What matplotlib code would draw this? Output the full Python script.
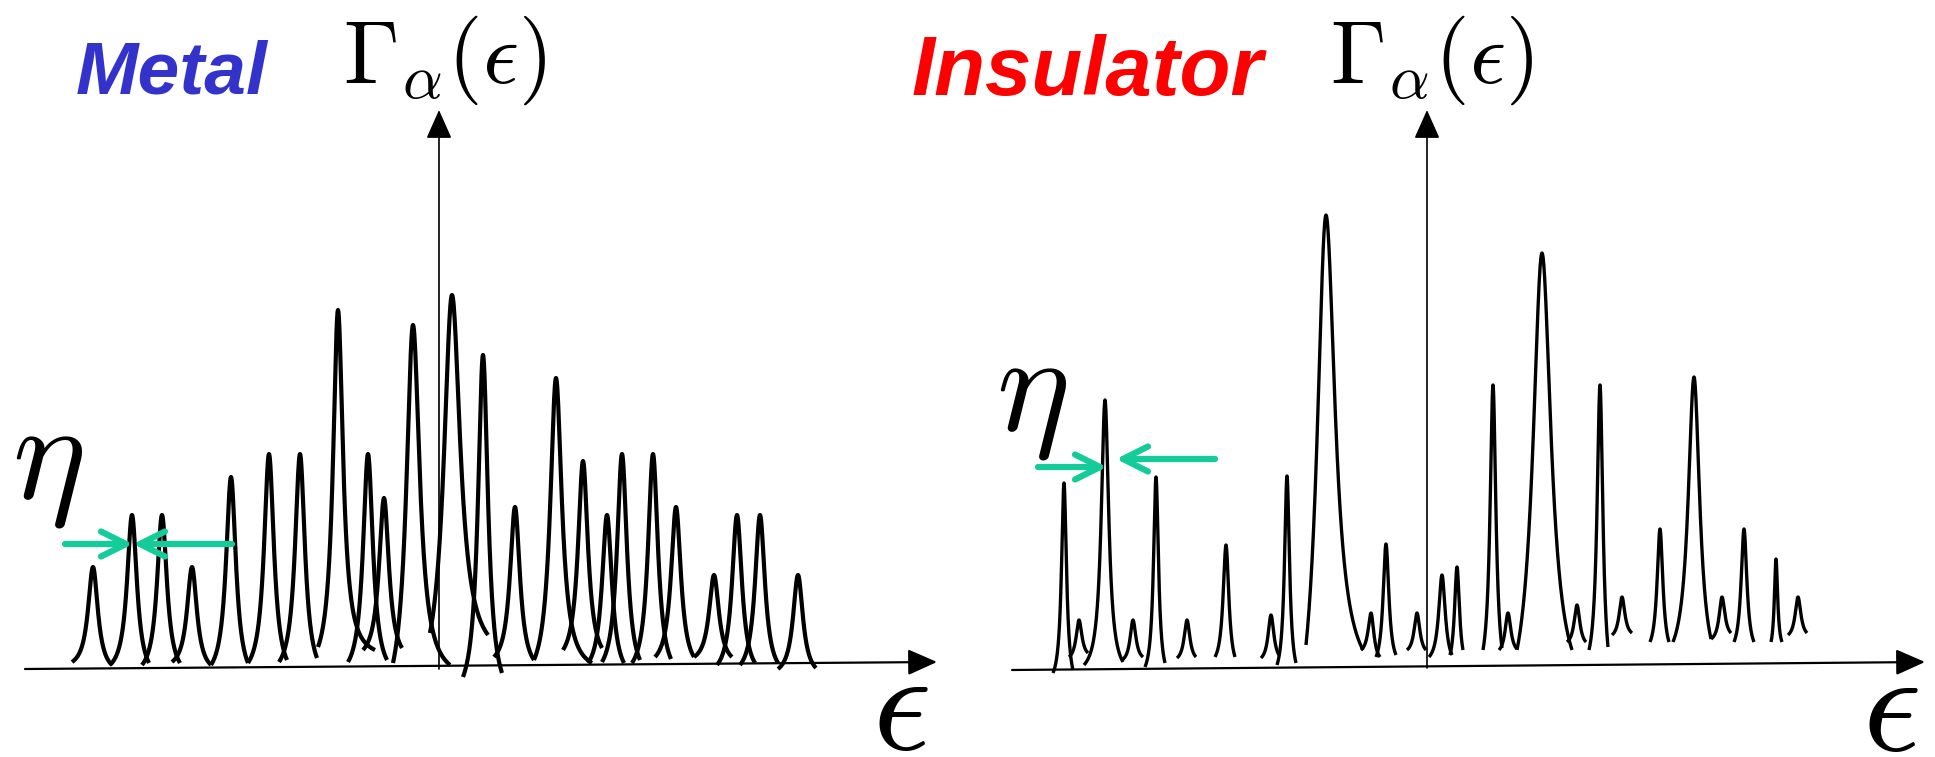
import matplotlib
matplotlib.use('Agg')
import matplotlib.pyplot as plt
import numpy as np

plt.rcParams['mathtext.fontset'] = 'cm'

# ---- Metal: peak centres (eps), peak tops (Gamma), widths, tail end points
metal_eps = [-3.45, -3.06, -2.76, -2.46, -2.07, -1.69, -1.38, -1.00, -0.70, -0.54, -0.25, 0.14,
             0.45, 0.77, 1.18, 1.45, 1.69, 1.84, 2.15, 2.38, 2.76, 2.99, 3.22, 3.60]
metal_top = [1.00, 1.52, 1.52, 1.00, 1.90, 2.13, 2.13, 3.57, 2.13, 1.69, 3.42, 3.72,
             3.12, 1.60, 2.89, 2.06, 1.52, 2.13, 2.13, 1.60, 0.92, 1.52, 1.52, 0.92]
metal_w = [0.06, 0.06, 0.06, 0.06, 0.06, 0.06, 0.06, 0.06, 0.06, 0.06, 0.08, 0.10,
           0.06, 0.06, 0.07, 0.06, 0.06, 0.06, 0.06, 0.06, 0.06, 0.06, 0.06, 0.06]
metal_left_x = [-3.66, -3.28, -2.96, -2.66, -2.27, -1.90, -1.59, -1.20, -0.90, -0.75, -0.45, -0.08,
                0.25, 0.56, 0.96, 1.25, 1.50, 1.64, 1.94, 2.17, 2.56, 2.79, 3.02, 3.40]
metal_left_y = [0.05, 0.02, 0.02, 0.05, 0.02, 0.04, 0.05, 0.20, 0.05, 0.17, 0.04, 0.34,
                -0.10, 0.10, 0.07, 0.17, 0.04, 0.05, 0.04, 0.10, 0.10, 0.02, 0.02, -0.02]
metal_right_x = [-3.26, -2.89, -2.58, -2.27, -1.90, -1.51, -1.21, -0.63, -0.51, -0.36, 0.12, 0.50,
                 0.64, 0.96, 1.54, 1.64, 1.86, 2.02, 2.33, 2.56, 2.94, 3.17, 3.40, 3.78]
metal_right_y = [0.02, 0.04, 0.04, 0.02, 0.04, 0.07, 0.09, 0.17, 0.07, 0.19, 0.02, 0.32,
                 -0.06, 0.07, 0.04, 0.19, 0.04, 0.07, 0.08, 0.10, 0.10, 0.04, 0.04, -0.01]

# ---- Insulator
ins_eps = [-3.63, -3.48, -3.22, -2.94, -2.71, -2.40, -2.01, -1.56, -1.40, -1.01, -0.56, -0.41,
           -0.10, 0.15, 0.30, 0.66, 0.81, 1.15, 1.50, 1.73, 1.95, 2.33, 2.67, 2.95, 3.17,
           3.49, 3.71]
ins_top = [1.85, 0.48, 2.68, 0.48, 1.91, 0.48, 1.23, 0.53, 1.92, 4.53, 0.55, 1.24,
           0.55, 0.93, 1.01, 2.83, 0.55, 4.15, 0.63, 2.83, 0.71, 1.39, 2.91, 0.71, 1.39,
           1.09, 0.71]
ins_w = [0.03, 0.035, 0.045, 0.035, 0.03, 0.035, 0.035, 0.035, 0.03, 0.11, 0.035, 0.035,
         0.035, 0.04, 0.03, 0.035, 0.035, 0.11, 0.035, 0.035, 0.035, 0.035, 0.07, 0.035, 0.035,
         0.02, 0.035]
ins_left_x = [-3.74, -3.58, -3.43, -3.05, -2.82, -2.50, -2.12, -1.66, -1.50, -1.21, -0.66, -0.51,
              -0.20, 0.02, 0.23, 0.56, 0.72, 0.90, 1.40, 1.62, 1.85, 2.23, 2.46, 2.84, 3.07,
              3.44, 3.61]
ins_left_y = [-0.05, 0.11, 0.03, 0.08, 0.01, 0.10, 0.11, 0.10, 0.03, 0.23, 0.18, 0.11,
              0.18, 0.11, 0.13, 0.18, 0.18, 0.18, 0.26, 0.18, 0.33, 0.26, 0.26, 0.29, 0.26,
              0.26, 0.33]
ins_right_x = [-3.54, -3.39, -3.04, -2.84, -2.62, -2.31, -1.92, -1.48, -1.31, -0.64, -0.47, -0.31,
               -0.01, 0.25, 0.36, 0.75, 0.90, 1.45, 1.59, 1.81, 2.05, 2.42, 2.84, 3.04, 3.27,
               3.55, 3.80]
ins_right_y = [-0.02, 0.15, 0.06, 0.11, 0.05, 0.11, 0.11, 0.13, 0.05, 0.18, 0.11, 0.13,
               0.18, 0.13, 0.18, 0.20, 0.19, 0.18, 0.26, 0.21, 0.35, 0.26, 0.29, 0.35, 0.26,
               0.26, 0.35]

GREEN = '#14cc99'


def draw_peaks(ax, eps, top, w, lx, ly, rx, ry, lw):
    for x0, h, wd, xl, yl, xr, yr in zip(eps, top, w, lx, ly, rx, ry):
        xs, ys = [], []
        for xe, ye in ((xl, yl), (xr, yr)):
            x = np.linspace(x0, xe, 80)
            lor = 1 / (1 + ((x - x0) / wd) ** 2)
            lend = 1 / (1 + ((xe - x0) / wd) ** 2)
            y = ye + (h - ye) * (lor - lend) / (1 - lend)
            xs.append(x)
            ys.append(y)
        x = np.concatenate([xs[0][::-1], xs[1][1:]])
        y = np.concatenate([ys[0][::-1], ys[1][1:]])
        ax.plot(x, y, color='black', lw=lw, solid_joinstyle='round',
                solid_capstyle='butt')


def axis_arrow(ax, start, tip, lw=1.5):
    ax.annotate('', xy=tip, xytext=start,
                arrowprops=dict(arrowstyle='-|>,head_length=0.9,head_width=0.4',
                                color='black', lw=lw, mutation_scale=20,
                                shrinkA=0, shrinkB=0))


def eta_arrow(ax, start, tip):
    ax.annotate('', xy=tip, xytext=start,
                arrowprops=dict(arrowstyle='->,head_length=0.9,head_width=0.45',
                                color=GREEN, lw=4.5, mutation_scale=20,
                                shrinkA=0, shrinkB=0))


fig = plt.figure(figsize=(19.35, 7.57), dpi=100)

# ---------------- Metal panel
ax1 = fig.add_axes([0, 0, 967 / 1935, 1])
ax1.set_xlim(-4.38, 5.29)
ax1.set_ylim(-0.90, 6.67)
ax1.set_axis_off()

axis_arrow(ax1, (-4.13, -0.02), (4.99, 0.05), lw=1.6)
axis_arrow(ax1, (0.01, -0.02), (0.01, 5.57), lw=1.2)
draw_peaks(ax1, metal_eps, metal_top, metal_w, metal_left_x, metal_left_y,
           metal_right_x, metal_right_y, lw=3.0)
eta_arrow(ax1, (-3.73, 1.23), (-3.05, 1.23))
eta_arrow(ax1, (-2.06, 1.23), (-3.05, 1.23))

ax1.text(-2.66, 5.73, 'Metal', ha='center', va='baseline', fontsize=54,
         family='Liberation Sans', weight='bold', style='italic', color='#3333cc')
ax1.text(-0.95, 5.84, r'$\Gamma_\alpha(\epsilon)$', ha='left', va='baseline', fontsize=64)
ax1.text(-3.90, 2.05, r'$\eta$', ha='center', va='center', fontsize=100)
ax1.text(4.62, -0.82, r'$\epsilon$', ha='center', va='baseline', fontsize=104)

# ---------------- Insulator panel
ax2 = fig.add_axes([967 / 1935, 0, 968 / 1935, 1])
ax2.set_xlim(-4.60, 5.08)
ax2.set_ylim(-0.89, 6.68)
ax2.set_axis_off()

axis_arrow(ax2, (-4.15, -0.02), (4.98, 0.06), lw=1.6)
axis_arrow(ax2, (0.0, 0.0), (0.0, 5.58), lw=1.2)
draw_peaks(ax2, ins_eps, ins_top, ins_w, ins_left_x, ins_left_y,
           ins_right_x, ins_right_y, lw=2.4)
eta_arrow(ax2, (-3.89, 2.01), (-3.20, 2.01))
eta_arrow(ax2, (-2.12, 2.09), (-3.11, 2.09))

ax2.text(-3.40, 5.73, 'Insulator', ha='center', va='baseline', fontsize=60,
         family='Liberation Sans', weight='bold', style='italic', color='#ff0000')
ax2.text(-0.97, 5.85, r'$\Gamma_\alpha(\epsilon)$', ha='left', va='baseline', fontsize=64)
ax2.text(-3.96, 2.73, r'$\eta$', ha='center', va='center', fontsize=100)
ax2.text(4.63, -0.82, r'$\epsilon$', ha='center', va='baseline', fontsize=104)

fig.savefig('out.png', dpi=100)
